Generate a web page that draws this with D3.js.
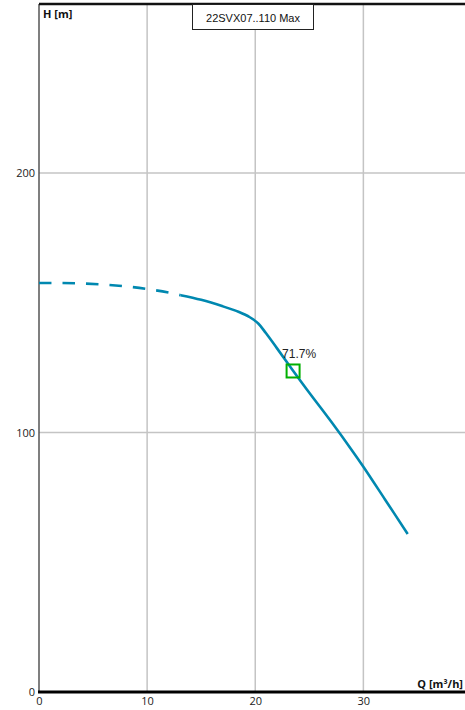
<!DOCTYPE html>
<html><head><meta charset="utf-8">
<script src="https://cdn.jsdelivr.net/npm/d3@7"></script>
<style>html,body{margin:0;padding:0;background:#fff;overflow:hidden}</style>
</head><body>
<svg id="c" width="465" height="710"></svg>
<script>
const title = "22SVX07..110 Max";
const xTicks = [0, 10, 20, 30];
const yTicks = [0, 100, 200];
const dashQ = [0, 2, 4, 6, 8, 10, 12, 13.1];
const dashH = [157.6, 157.6, 157.4, 157.0, 156.3, 155.3, 153.9, 152.9];
const solidQ = [13.1, 15, 17, 18.5, 19.5, 20.3, 21, 22, 23.5, 25, 27, 29, 30, 32, 34.1];
const solidH = [152.9, 151.1, 148.6, 146.4, 144.4, 141.9, 138.2, 132.5, 123.8, 115.3, 104.3, 92.8, 86.8, 74.2, 60.9];
const bepQ = [23.5];
const bepH = [123.5];
const bepLabel = ["71.7%"];

const svg = d3.select("#c");
const x = d3.scaleLinear().domain([0, 39.4]).range([39, 465]);
const y = d3.scaleLinear().domain([0, 265.1]).range([692, 4]);

// grid
svg.append("g").selectAll("line").data(xTicks.filter(d => d > 0)).join("line")
  .attr("x1", d => x(d)).attr("x2", d => x(d)).attr("y1", y(265.1)).attr("y2", y(0))
  .attr("stroke", "#c4c4c4").attr("stroke-width", 1.5);
svg.append("g").selectAll("line").data(yTicks.filter(d => d > 0)).join("line")
  .attr("x1", x(0)).attr("x2", x(39.4)).attr("y1", d => y(d)).attr("y2", d => y(d))
  .attr("stroke", "#c4c4c4").attr("stroke-width", 1.5);

// axes
const xAxis = d3.axisBottom(x).tickValues(xTicks).tickSize(0).tickPadding(5).tickFormat(d3.format("d"));
const gx = svg.append("g").attr("transform", `translate(0,${y(0)})`).call(xAxis);
gx.select(".domain").remove();
gx.selectAll("text").attr("font-family", "'Open Sans', sans-serif").attr("font-size", 11).attr("fill", "#222");

const yAxis = d3.axisLeft(y).tickValues(yTicks).tickSize(0).tickPadding(4).tickFormat(d3.format("d"));
const gy = svg.append("g").attr("transform", `translate(${x(0)},0)`).call(yAxis);
gy.select(".domain").remove();
gy.selectAll("text").attr("font-family", "'Open Sans', sans-serif").attr("font-size", 11).attr("fill", "#222");

svg.append("line").attr("x1", x(0)).attr("x2", x(0)).attr("y1", y(265.1)).attr("y2", y(0))
  .attr("stroke", "#555").attr("stroke-width", 1.5);
svg.append("line").attr("x1", x(0)).attr("x2", x(39.4)).attr("y1", y(265.1)).attr("y2", y(265.1))
  .attr("stroke", "#111").attr("stroke-width", 2.5);
svg.append("line").attr("x1", x(0) - 1).attr("x2", x(39.4)).attr("y1", y(0)).attr("y2", y(0))
  .attr("stroke", "#000").attr("stroke-width", 3);

// curve
const line = d3.line().x(d => x(d[0])).y(d => y(d[1])).curve(d3.curveCatmullRom.alpha(0.5));
svg.append("path").datum(dashQ.map((q, i) => [q, dashH[i]])).attr("d", line)
  .attr("fill", "none").attr("stroke", "#0088b0").attr("stroke-width", 2.6).attr("stroke-dasharray", "12.5,11");
svg.append("path").datum(solidQ.map((q, i) => [q, solidH[i]])).attr("d", line)
  .attr("fill", "none").attr("stroke", "#0088b0").attr("stroke-width", 2.6);

// BEP marker
svg.append("g").selectAll("rect").data(bepQ).join("rect")
  .attr("x", (d) => x(d) - 6.5).attr("y", (d, i) => y(bepH[i]) - 7).attr("width", 13).attr("height", 13)
  .attr("fill", "none").attr("stroke", "#00b000").attr("stroke-width", 2);
svg.append("g").selectAll("text").data(bepQ).join("text")
  .attr("x", d => x(d) + 6).attr("y", (d, i) => y(bepH[i]) - 13)
  .attr("text-anchor", "middle").attr("font-family", "'Liberation Sans', Arial, sans-serif")
  .attr("font-size", 12).attr("fill", "#222").text((d, i) => bepLabel[i]);

// axis titles
svg.append("text").attr("x", 43).attr("y", 18).attr("font-family", "'Open Sans', sans-serif")
  .attr("font-weight", "bold").attr("font-size", 11).attr("fill", "#111").text("H [m]");
svg.append("text").attr("x", 463).attr("y", 688).attr("text-anchor", "end").attr("font-family", "'Open Sans', sans-serif")
  .attr("font-weight", "bold").attr("font-size", 11).attr("fill", "#111").text("Q [m³/h]");

// title box
const tg = svg.append("g");
tg.append("rect").attr("x", 192.5).attr("y", 4.5).attr("width", 121).attr("height", 25)
  .attr("fill", "#fff").attr("stroke", "#222").attr("stroke-width", 1);
tg.append("text").attr("x", 253).attr("y", 21.5).attr("text-anchor", "middle")
  .attr("font-family", "'Liberation Sans', Arial, sans-serif").attr("font-size", 11).attr("fill", "#111").text(title);
</script>
</body></html>
